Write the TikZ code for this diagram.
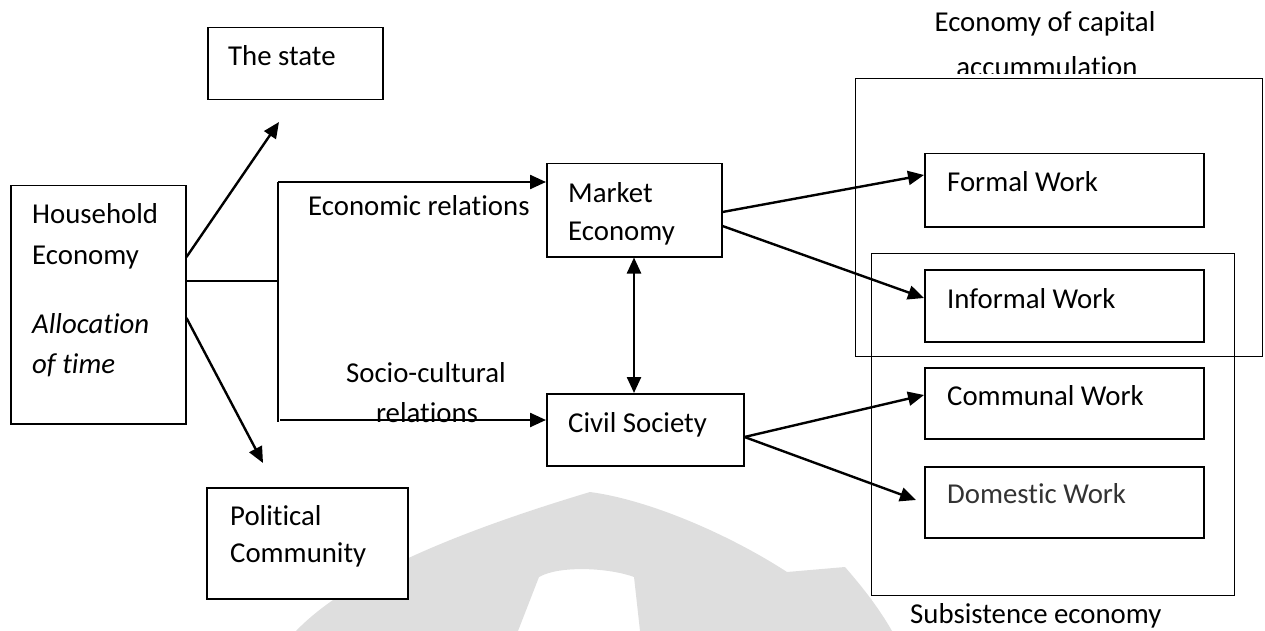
\documentclass[tikz,border=0pt]{standalone}
\usepackage{fontspec}
\setmainfont[Ligatures=NoCommon]{Carlito}
\usetikzlibrary{arrows.meta}
\definecolor{wm}{gray}{0.87}
\tikzset{
  box/.style={draw, line width=1.5pt, fill=white, inner sep=0pt, anchor=north west},
  region/.style={draw, line width=1.4pt, inner sep=0pt, anchor=north west},
  lbl/.style={font=\fontsize{28.8}{40}\selectfont, inner sep=0pt, anchor=base west},
  clbl/.style={font=\fontsize{28.8}{40}\selectfont, inner sep=0pt, anchor=base},
  arr/.style={line width=2.4pt, -{Triangle[length=16pt,width=14pt]}},
  darr/.style={line width=2.4pt, {Triangle[length=16pt,width=14pt]}-{Triangle[length=16pt,width=14pt]}},
  plain/.style={line width=1.5pt},
}
\begin{document}
\begin{tikzpicture}[x=1pt,y=-1pt]
\useasboundingbox (0,0) rectangle (1265,631);
% watermark
\fill[wm, even odd rule]
  (296,631) .. controls (340,585) and (430,540) .. (590,492)
  .. controls (650,500) and (730,535) .. (787,572) -- (845,567)
  .. controls (865,590) and (880,610) .. (892,631) -- cycle
  (518,631) -- (539,577) .. controls (560,565) and (610,568) .. (634,577) -- (640,631) -- cycle;

% region boxes
\node[region, minimum width=407pt, minimum height=278pt] (capital) at (855,78) {};
\node[region, minimum width=363pt, minimum height=342pt] (subs) at (871,253) {};

% boxes
\node[box, minimum width=175pt, minimum height=72pt] (state) at (207,27) {};
\node[box, minimum width=175pt, minimum height=238pt] (house) at (10,185) {};
\node[box, minimum width=201pt, minimum height=111pt] (pol) at (206,487) {};
\node[box, minimum width=175pt, minimum height=93pt] (market) at (546,163) {};
\node[box, minimum width=197pt, minimum height=72pt] (civil) at (546,393) {};
\node[box, minimum width=279pt, minimum height=73pt] (formal) at (924,153) {};
\node[box, minimum width=279pt, minimum height=72pt] (informal) at (924,269) {};
\node[box, minimum width=279pt, minimum height=71pt] (communal) at (924,367) {};
\node[box, minimum width=279pt, minimum height=71pt] (domestic) at (924,466) {};

% texts
\node[lbl] (tstate) at (228,66) {The state};
\node[lbl] (th1) at (32,223) {Household};
\node[lbl] (th2) at (32,264) {Economy};
\node[lbl, font=\fontsize{28.8}{40}\selectfont\itshape] (th3) at (32,333) {Allocation};
\node[lbl, font=\fontsize{28.8}{40}\selectfont\itshape] (th4) at (32,373) {of time};
\node[lbl] (tp1) at (230,525) {Political};
\node[lbl] (tp2) at (230,562) {Community};
\node[lbl] (tm1) at (568,202) {Market};
\node[lbl] (tm2) at (568,240) {Economy};
\node[lbl] (tc) at (568,432) {Civil Society};
\node[lbl] (tf) at (947,192) {Formal Work};
\node[lbl] (ti) at (947,308) {Informal Work};
\node[lbl] (tco) at (947,405) {Communal Work};
\node[lbl, text=black!80] (td) at (947,503) {Domestic Work};
\node[lbl] (ter) at (308,215) {Economic relations};
\node[clbl] (ts1) at (426,382) {Socio-cultural};
\node[clbl] (ts2) at (427,422) {relations};
\node[clbl] (tcap1) at (1045,32) {Economy of capital};
\begin{scope}
  \clip (900,0) rectangle (1200,74);
  \node[clbl] (tcap2) at (1047,77) {accummulation};
\end{scope}
\node[lbl] (tsub) at (910,623) {Subsistence economy};

% connectors
\coordinate (stateTip) at (279,122);
\coordinate (polTip) at (263,463);
\coordinate (vTop) at (278,182);
\coordinate (vBot) at (278,422);
\coordinate (vMid) at (278,281);
\coordinate (socStart) at (280,420);
\coordinate (domTip) at (916,500);

\draw[arr] (house.east |- 0,257) -- (stateTip);
\draw[arr] (house.east |- 0,318) -- (polTip);
\draw[plain] (house.east |- vMid) -- (vMid);
\draw[plain] (vTop) -- (vBot);
\draw[arr] (vTop) -- (market.west |- vTop);
\draw[arr] (socStart) -- (civil.west |- socStart);
\draw[darr] (market.south -| 634,0) -- (civil.north -| 634,0);
\draw[arr] (market.east |- 0,212) -- (formal.west |- 0,175);
\draw[arr] (market.east |- 0,226) -- (informal.west |- 0,298);
\draw[arr] (civil.east |- 0,437) -- (communal.west |- 0,395);
\draw[arr] (civil.east |- 0,437) -- (domTip);
\end{tikzpicture}
\end{document}
